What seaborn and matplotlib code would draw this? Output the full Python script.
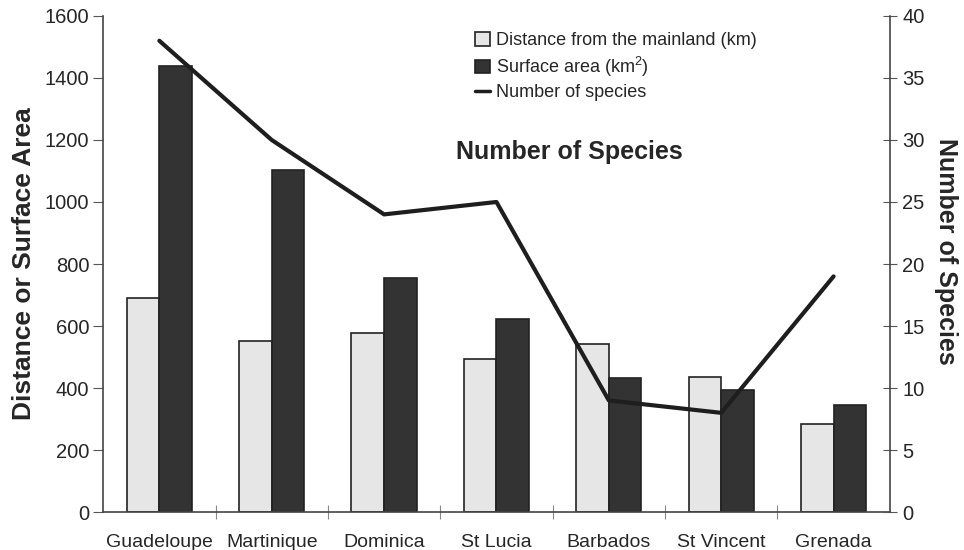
import numpy as np
import pandas as pd
import matplotlib
matplotlib.use("Agg")
import matplotlib.pyplot as plt
import seaborn as sns
from matplotlib.patches import Patch
from matplotlib.lines import Line2D
from matplotlib.ticker import FixedLocator

islands = ["Guadeloupe", "Martinique", "Dominica", "St Lucia",
           "Barbados", "St Vincent", "Grenada"]
distance = [690, 552, 578, 494, 541, 436, 285]
area = [1438, 1104, 756, 624, 433, 394, 345]
species = [38, 30, 24, 25, 9, 8, 19]

dist_label = "Distance from the mainland (km)"
area_label = "Surface area (km$^2$)"
species_label = "Number of species"

sns.set_style("white")
plt.rcParams['font.family'] = ['Liberation Sans', 'DejaVu Sans']
plt.rcParams['mathtext.fontset'] = 'custom'
plt.rcParams['mathtext.rm'] = 'Liberation Sans'
plt.rcParams['mathtext.it'] = 'Liberation Sans:italic'

frame = pd.DataFrame({
    "island": islands * 2,
    "value": distance + area,
    "measure": [dist_label] * len(islands) + [area_label] * len(islands),
})

light = "#e6e6e6"
dark = "#333333"
line_col = "#1e1e1e"

fig = plt.figure(figsize=(9.64, 5.5), dpi=100)
ax = fig.add_subplot(111)
sns.barplot(data=frame, x="island", y="value", hue="measure",
            palette=[light, dark], edgecolor="#222222", linewidth=1.2,
            width=0.58, ax=ax, legend=False)
ax.set_ylim(0, 1600)
ax.set_yticks(range(0, 1601, 200))
ax.set_xlim(-0.5, len(islands) - 0.5)
ax.set_xlabel(None)
ax.set_ylabel("Distance or Surface Area", fontsize=19, fontweight="bold", labelpad=6)
ax.tick_params(axis="y", labelsize=14.5, direction="out", length=7, width=0.8,
               color="#555555", left=True, pad=3)
ax.tick_params(axis="x", labelsize=14, bottom=False, pad=12)
ax.xaxis.set_minor_locator(FixedLocator(np.arange(0.5, len(islands) - 1, 1.0)))
ax.tick_params(axis="x", which="minor", direction="inout", length=10, width=0.8,
               color="#888888", bottom=True)
for s in ["top", "right"]:
    ax.spines[s].set_visible(False)
for s in ["left", "bottom"]:
    ax.spines[s].set_color("#444444")
    ax.spines[s].set_linewidth(1.2)

ax2 = ax.twinx()
sns.pointplot(x=islands, y=species, ax=ax2, color=line_col, markers="",
              linewidth=3.0, errorbar=None)
ax2.set_xlim(-0.5, len(islands) - 0.5)
ax2.set_ylim(0, 40)
ax2.set_yticks(range(0, 41, 5))
ax2.set_ylabel("Number of Species", fontsize=18, fontweight="bold",
               rotation=270, va="center")
ax2.yaxis.set_label_coords(1.072, 0.525)
ax2.tick_params(axis="y", labelsize=14.5, direction="inout", length=10, width=0.8,
                color="#555555", right=True, pad=4)
for s in ["top", "left", "bottom"]:
    ax2.spines[s].set_visible(False)
ax2.spines["right"].set_color("#444444")
ax2.spines["right"].set_linewidth(1.2)

ax.text(0.593, 0.726, "Number of Species", transform=ax.transAxes,
        ha="center", va="center", fontsize=18, fontweight="bold")

handles = [
    Patch(facecolor=light, edgecolor="#222222", linewidth=1.2),
    Patch(facecolor=dark, edgecolor="#222222", linewidth=1.2),
    Line2D([0], [0], color=line_col, linewidth=2.5),
]
ax2.legend(handles, [dist_label, area_label, species_label],
           loc="upper left", bbox_to_anchor=(0.464, 0.982), frameon=False,
           fontsize=13, handlelength=0.8, handleheight=0.8,
           handletextpad=0.35, labelspacing=0.3, borderaxespad=0)

plt.subplots_adjust(left=0.107, right=0.923, top=0.971, bottom=0.069)
fig.savefig("out.png", dpi=100)
